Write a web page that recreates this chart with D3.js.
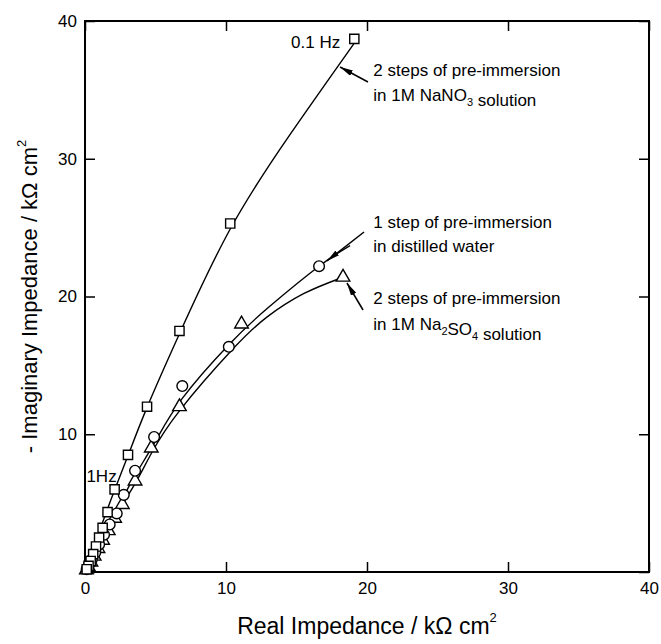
<!DOCTYPE html>
<html>
<head>
<meta charset="utf-8">
<script src="https://cdn.jsdelivr.net/npm/d3@7"></script>
<style>
  body { margin: 0; background: #fff; }
  text { font-family: "Liberation Sans", Arial, sans-serif; fill: #000; }
</style>
</head>
<body>
<script>

var w = 661;
var h = 644;

// measured points, kOhm cm2 (real, -imag)
var nano3Points = [[19.1, 38.7], [10.3, 25.3], [6.7, 17.5], [4.4, 12.0], [3.05, 8.5], [2.1, 6.0], [1.6, 4.35],
                   [1.25, 3.2], [1.0, 2.5], [0.78, 1.85], [0.58, 1.3], [0.4, 0.8], [0.25, 0.45], [0.12, 0.2]];
var waterPoints = [[16.6, 22.2], [10.2, 16.35], [6.9, 13.5], [4.9, 9.8], [3.55, 7.35], [2.75, 5.6], [2.25, 4.25],
                   [1.75, 3.45], [1.35, 2.7], [1.0, 2.0], [0.72, 1.4], [0.48, 0.9], [0.28, 0.5], [0.12, 0.2]];
var na2so4Points = [[18.3, 21.4], [11.1, 18.0], [6.7, 12.0], [4.7, 9.0], [3.55, 6.6], [2.65, 4.9], [2.1, 3.9],
                    [1.65, 3.0], [1.25, 2.3], [0.92, 1.7], [0.65, 1.15], [0.42, 0.72], [0.24, 0.38], [0.1, 0.15]];

// fitted curves
var nano3Fit = [[0, 0], [1.0, 2.9], [2.1, 5.95], [3.05, 8.45], [4.4, 11.95], [6.7, 17.3], [10.3, 24.9],
                [14.5, 31.7], [19.1, 38.4]];
var waterFit = [[0, 0], [0.6, 1.35], [1.6, 3.3], [2.7, 5.4], [3.6, 7.1], [5.0, 9.5], [6.9, 12.6],
                [10.2, 16.5], [13.0, 19.2], [16.6, 22.2], [18.8, 23.7]];
var na2so4Fit = [[0, 0], [0.5, 0.9], [1.5, 2.8], [2.6, 4.8], [3.6, 6.5], [4.7, 8.6], [6.7, 11.7],
                 [10.5, 16.2], [12.9, 18.5], [15.5, 20.2], [18.3, 21.4]];

var tickValues = [0, 10, 20, 30, 40];

var margin = {top: 21, right: 12, bottom: 72, left: 85};

var svg = d3.select("body")
        .append("svg")
        .attr("width", w)
        .attr("height", h);

var x = d3.scaleLinear().domain([0, 40]).range([margin.left, w - margin.right]);
var y = d3.scaleLinear().domain([0, 40]).range([h - margin.bottom, margin.top]);

// axes, ticks pointing inward
function styleAxis(g) {
    g.select(".domain").remove();
    g.selectAll(".tick line").attr("stroke", "#000").attr("stroke-width", 1.5);
    g.selectAll(".tick text").attr("font-size", 17).attr("font-family", "Liberation Sans, Arial, sans-serif");
}

svg.append("g")
    .attr("transform", "translate(0," + y(0) + ")")
    .call(d3.axisBottom(x).tickValues(tickValues).tickSizeInner(-10).tickSizeOuter(0).tickPadding(10))
    .call(styleAxis);

svg.append("g")
    .attr("transform", "translate(" + x(0) + ",0)")
    .call(d3.axisLeft(y).tickValues(tickValues).tickFormat(function(d) { return d === 0 ? "" : d; })
        .tickSizeInner(-10).tickSizeOuter(0).tickPadding(8))
    .call(styleAxis);

svg.append("g")
    .attr("transform", "translate(0," + y(40) + ")")
    .call(d3.axisTop(x).tickValues(tickValues).tickFormat("").tickSizeInner(-10).tickSizeOuter(0))
    .call(styleAxis);

svg.append("g")
    .attr("transform", "translate(" + x(40) + ",0)")
    .call(d3.axisRight(y).tickValues(tickValues).tickFormat("").tickSizeInner(-10).tickSizeOuter(0))
    .call(styleAxis);

svg.append("rect")
    .attr("x", x(0))
    .attr("y", y(40))
    .attr("width", x(40) - x(0))
    .attr("height", y(0) - y(40))
    .attr("fill", "none")
    .attr("stroke", "#000")
    .attr("stroke-width", 2);

// axis titles
var xTitle = svg.append("text")
    .attr("x", (x(0) + x(40)) / 2)
    .attr("y", 634)
    .attr("text-anchor", "middle")
    .attr("font-size", 23);
xTitle.append("tspan").text("Real Impedance / k\u03A9 cm");
xTitle.append("tspan").attr("font-size", 13).attr("dy", -12).text("2");

var yTitle = svg.append("text")
    .attr("transform", "translate(37," + (y(0) + y(40)) / 2 + ") rotate(-90)")
    .attr("text-anchor", "middle")
    .attr("font-size", 22);
yTitle.append("tspan").text("- Imaginary Impedance / k\u03A9 cm");
yTitle.append("tspan").attr("font-size", 13).attr("dy", -11).text("2");

// fitted lines
var line = d3.line()
        .x(function(d) { return x(d[0]); })
        .y(function(d) { return y(d[1]); })
        .curve(d3.curveNatural);

[nano3Fit, waterFit, na2so4Fit].forEach(function(fit) {
    svg.append("path")
        .attr("d", line(fit))
        .attr("fill", "none")
        .attr("stroke", "#000")
        .attr("stroke-width", 1.4);
});

// markers
var sym = {
    square: d3.symbol().type(d3.symbolSquare).size(85),
    circle: d3.symbol().type(d3.symbolCircle).size(90),
    triangle: d3.symbol().type(d3.symbolTriangle).size(80)
};

function drawMarkers(data, shape) {
    svg.selectAll("path." + shape)
        .data(data)
        .enter()
        .append("path")
        .attr("class", shape)
        .attr("d", sym[shape])
        .attr("transform", function(d) { return "translate(" + x(d[0]) + "," + y(d[1]) + ")"; })
        .attr("fill", "#fff")
        .attr("stroke", "#000")
        .attr("stroke-width", 1.4);
}
drawMarkers(na2so4Points, "triangle");
drawMarkers(waterPoints, "circle");
drawMarkers(nano3Points, "square");

// annotations (data units)
svg.append("defs").append("marker")
    .attr("id", "head")
    .attr("viewBox", "0 0 13 6")
    .attr("refX", 13)
    .attr("refY", 3)
    .attr("markerWidth", 13)
    .attr("markerHeight", 6)
    .attr("markerUnits", "userSpaceOnUse")
    .attr("orient", "auto")
    .append("path")
    .attr("d", "M0,0 L13,3 L0,6 Z")
    .attr("fill", "#000");

var arrows = [
    [[20.07, 35.57], [18.09, 36.66]],
    [[19.79, 24.68], [17.16, 22.58]],
    [[19.72, 19.02], [18.58, 20.98]]
];
arrows.forEach(function(a) {
    svg.append("line")
        .attr("x1", x(a[0][0])).attr("y1", y(a[0][1]))
        .attr("x2", x(a[1][0])).attr("y2", y(a[1][1]))
        .attr("stroke", "#000")
        .attr("stroke-width", 1.5)
        .attr("marker-end", "url(#head)");
});

function label(xv, yv, parts, anchor) {
    var t = svg.append("text")
        .attr("x", x(xv))
        .attr("y", y(yv))
        .attr("font-size", 17)
        .attr("text-anchor", anchor || "start");
    parts.forEach(function(p) {
        if (typeof p === "string") {
            t.append("tspan").text(p);
        } else {
            t.append("tspan").attr("font-size", 11).attr("dy", 5).text(p.sub);
            t.append("tspan").attr("dy", -5).text("");
        }
    });
    return t;
}

label(18.1, 38.05, ["0.1 Hz"], "end");
label(20.45, 36.0, ["2 steps of pre-immersion"]);
label(20.45, 34.16, ["in 1M NaNO", {sub: "3"}, " solution"]);
label(20.45, 24.97, ["1 step of pre-immersion"]);
label(20.45, 23.23, ["in distilled water"]);
label(20.45, 19.46, ["2 steps of pre-immersion"]);
label(20.45, 17.57, ["in 1M Na", {sub: "2"}, "SO", {sub: "4"}, " solution"]);
label(0.1, 6.55, ["1Hz"]);

</script>
</body>
</html>
